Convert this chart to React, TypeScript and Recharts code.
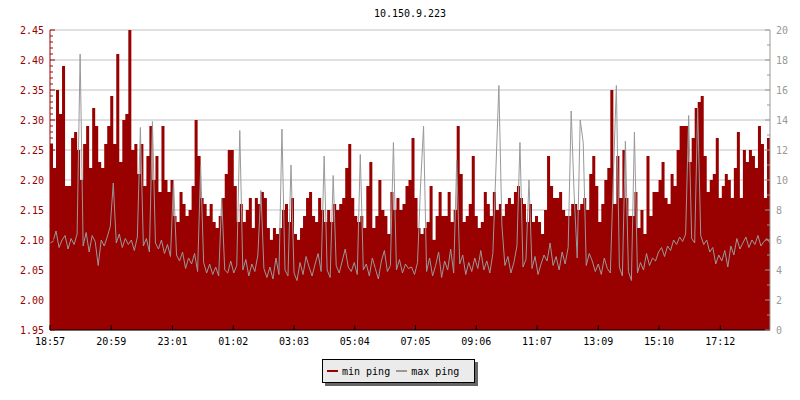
import React from 'react';
import { ComposedChart, Area, Line, XAxis, YAxis, CartesianGrid } from 'recharts';

// ping samples every 6 minutes starting 18:57
const START = '18:57';
const STEP_MIN = 6;

const minPing = [
  2.26, 2.22, 2.35, 2.31, 2.39, 2.19, 2.19, 2.27, 2.28, 2.25,
  2.20, 2.26, 2.29, 2.22, 2.32, 2.29, 2.23, 2.22, 2.26, 2.29,
  2.34, 2.26, 2.41, 2.23, 2.30, 2.31, 2.45, 2.25, 2.26, 2.21,
  2.26, 2.19, 2.24, 2.29, 2.20, 2.24, 2.18, 2.29, 2.20, 2.18,
  2.20, 2.14, 2.13, 2.18, 2.16, 2.14, 2.15, 2.19, 2.30, 2.24,
  2.17, 2.16, 2.14, 2.16, 2.13, 2.12, 2.14, 2.17, 2.21, 2.25,
  2.25, 2.19, 2.13, 2.16, 2.13, 2.15, 2.17, 2.12, 2.17, 2.16,
  2.18, 2.17, 2.12, 2.10, 2.12, 2.11, 2.12, 2.15, 2.16, 2.13,
  2.17, 2.11, 2.10, 2.12, 2.14, 2.17, 2.18, 2.14, 2.13, 2.17,
  2.15, 2.13, 2.15, 2.13, 2.16, 2.15, 2.16, 2.17, 2.22, 2.26,
  2.17, 2.14, 2.13, 2.14, 2.12, 2.19, 2.23, 2.12, 2.14, 2.20,
  2.15, 2.14, 2.11, 2.18, 2.15, 2.17, 2.15, 2.16, 2.19, 2.20,
  2.27, 2.17, 2.12, 2.11, 2.12, 2.13, 2.19, 2.10, 2.14, 2.18,
  2.14, 2.14, 2.18, 2.13, 2.15, 2.29, 2.21, 2.13, 2.14, 2.16,
  2.24, 2.14, 2.12, 2.13, 2.18, 2.16, 2.14, 2.18, 2.15, 2.16,
  2.14, 2.16, 2.17, 2.16, 2.18, 2.19, 2.17, 2.16, 2.13, 2.16,
  2.13, 2.14, 2.13, 2.11, 2.15, 2.24, 2.19, 2.17, 2.17, 2.18,
  2.15, 2.14, 2.14, 2.16, 2.16, 2.15, 2.16, 2.17, 2.15, 2.21,
  2.24, 2.19, 2.13, 2.16, 2.20, 2.22, 2.35, 2.16, 2.24, 2.17,
  2.25, 2.17, 2.14, 2.14, 2.18, 2.12, 2.15, 2.11, 2.24, 2.14,
  2.18, 2.18, 2.20, 2.23, 2.17, 2.16, 2.21, 2.19, 2.25, 2.29,
  2.29, 2.29, 2.23, 2.27, 2.32, 2.33, 2.34, 2.24, 2.18, 2.20,
  2.21, 2.27, 2.17, 2.19, 2.21, 2.20, 2.17, 2.22, 2.28, 2.17,
  2.25, 2.23, 2.25, 2.24, 2.22, 2.29, 2.26, 2.17, 2.27, 2.32,
];

const maxPing = [
  5.8, 5.9, 6.6, 5.5, 6.0, 6.3, 5.4, 6.1, 5.7, 6.4,
  18.4, 5.6, 6.5, 5.2, 6.3, 5.9, 4.3, 6.0, 5.6, 6.2,
  6.9, 9.8, 5.8, 6.4, 5.5, 6.1, 5.7, 6.0, 5.3, 6.2,
  13.5, 5.6, 6.1, 5.2, 13.9, 5.8, 5.4, 6.0, 5.1, 5.7,
  4.9, 9.9, 5.0, 4.6, 5.2, 4.1, 4.8, 4.4, 5.1, 3.9,
  10.9, 4.5, 3.8, 4.4, 3.7, 4.2, 3.6, 8.8, 4.0, 3.8,
  4.6, 3.8, 4.3, 13.3, 4.0, 4.7, 3.6, 4.4, 3.9, 5.0,
  9.3, 4.1, 3.5, 4.2, 3.4, 4.8, 3.7, 13.4, 4.0, 3.6,
  11.0, 3.8, 3.3, 4.5, 3.7, 4.9, 4.2, 3.6, 4.4, 5.1,
  3.9, 11.6, 4.0, 3.5, 10.3, 4.3, 3.8, 4.6, 5.4, 4.2,
  3.9, 4.5, 3.7, 11.7, 4.0, 4.4, 3.6, 4.8, 4.1, 3.4,
  4.6, 5.3, 3.9, 4.3, 12.5, 4.0, 4.7, 3.8, 4.4, 4.1,
  4.2, 3.7, 4.5, 9.6, 13.6, 3.9, 4.8, 3.6, 4.3, 5.2,
  3.5, 4.6, 4.0, 5.4, 3.8, 11.3, 4.4, 5.0, 3.7, 4.5,
  3.9, 4.8, 4.1, 5.3, 4.0, 4.6, 3.8, 5.1, 10.6, 16.3,
  7.0, 4.3, 4.9, 3.8, 4.5, 5.6, 12.5, 4.2, 4.7, 10.0,
  4.1, 4.9, 3.7, 4.4, 5.0, 4.6, 5.8, 4.3, 4.9, 4.0,
  5.2, 4.4, 5.5, 14.6, 9.0, 4.8, 14.0, 12.5, 4.3, 5.1,
  4.6, 3.9, 4.4, 3.7, 4.8, 4.1, 3.8, 10.2, 16.3, 4.2,
  3.6, 12.6, 3.9, 3.3, 13.2, 3.8, 4.5, 4.0, 5.1, 4.3,
  4.8, 4.6, 5.2, 5.5, 4.9, 5.6, 5.3, 6.0, 5.7, 6.2,
  5.9, 6.4, 14.3, 6.1, 5.8, 14.8, 6.3, 5.7, 6.0, 5.2,
  5.5, 4.4, 5.0, 4.6, 5.3, 4.2, 5.6, 5.0, 6.1, 5.4,
  5.8, 6.2, 5.5, 6.0, 5.7, 6.3, 5.6, 5.9, 6.1, 5.8,
];

const timeLabels = ['18:57', '20:59', '23:01', '01:02', '03:03', '05:04', '07:05', '09:06', '11:07', '13:09', '15:10', '17:12'];
const leftLabels = [1.95, 2.0, 2.05, 2.1, 2.15, 2.2, 2.25, 2.3, 2.35, 2.4, 2.45];
const rightLabels = [0, 2, 4, 6, 8, 10, 12, 14, 16, 18, 20];

const RED = '#990000';
const GREY = '#999999';
const FONT = '"DejaVu Sans Mono", monospace';

const toMin = (s: string) => {
  const [h, m] = s.split(':').map(Number);
  return h * 60 + m;
};
const offset = (s: string) => (toMin(s) - toMin(START) + 1440) % 1440;
const fromOffset = (v: number) => {
  const m = (toMin(START) + v) % 1440;
  return `${String(Math.floor(m / 60)).padStart(2, '0')}:${String(m % 60).padStart(2, '0')}`;
};

const data = minPing.map((v, i) => ({ t: i * STEP_MIN, min: v, max: maxPing[i] }));
const lastT = (minPing.length - 1) * STEP_MIN;
const xTicks = timeLabels.map(offset);

// minor ticks every 0.01 on the left, every 1 on the right
const leftTicks: number[] = [];
for (let k = 195; k <= 245; k++) leftTicks.push(k / 100);
const rightTicks: number[] = [];
for (let k = 0; k <= 20; k++) rightTicks.push(k);

const GAP = 6;

const LeftTick = (props: any) => {
  const { x, y, payload } = props;
  const ax = x + GAP;
  const major = Math.round(payload.value * 100) % 5 === 0;
  return (
    <g>
      <line x1={ax} x2={ax + (major ? 5 : 3)} y1={y} y2={y} stroke={RED} />
      {major && (
        <text x={x} y={y} dy="0.35em" textAnchor="end" fill={RED} fontSize={10} fontFamily={FONT}>
          {payload.value.toFixed(2)}
        </text>
      )}
    </g>
  );
};

const RightTick = (props: any) => {
  const { x, y, payload } = props;
  const ax = x - GAP;
  const major = payload.value % 2 === 0;
  return (
    <g>
      <line x1={ax} x2={ax - (major ? 5 : 3)} y1={y} y2={y} stroke={GREY} />
      {major && (
        <text x={x} y={y} dy="0.35em" textAnchor="start" fill={GREY} fontSize={10} fontFamily={FONT}>
          {payload.value}
        </text>
      )}
    </g>
  );
};

const XTick = (props: any) => {
  const { x, y, payload } = props;
  const ay = y - 8;
  return (
    <g>
      <line x1={x} x2={x} y1={ay} y2={ay - 5} stroke="#000" />
      <text x={x} y={y} dy="0.71em" textAnchor="middle" fill="#000" fontSize={10} fontFamily={FONT}>
        {fromOffset(payload.value)}
      </text>
    </g>
  );
};

export default function App() {
  return (
    <div style={{ position: 'absolute', left: 0, top: 0, width: 800, height: 400, background: '#fff', fontFamily: FONT }}>
      <div style={{ position: 'absolute', left: 50, top: 8, width: 720, textAlign: 'center', fontSize: 10, color: '#000' }}>
        10.150.9.223
      </div>
      <ComposedChart width={800} height={400} data={data} margin={{ top: 30, right: 0, bottom: 0, left: 0 }}>
        <CartesianGrid yAxisId="left" vertical={false} horizontalValues={leftLabels} stroke="#c0c0c0" />
        <YAxis
          yAxisId="left"
          orientation="left"
          width={50}
          domain={[1.95, 2.45]}
          ticks={leftTicks}
          interval={0}
          allowDataOverflow
          tickSize={0}
          tickMargin={GAP}
          tickLine={false}
          axisLine={{ stroke: RED }}
          tick={<LeftTick />}
        />
        <YAxis
          yAxisId="right"
          orientation="right"
          width={30}
          domain={[0, 20]}
          ticks={rightTicks}
          interval={0}
          allowDataOverflow
          tickSize={0}
          tickMargin={GAP}
          tickLine={false}
          axisLine={{ stroke: GREY }}
          tick={<RightTick />}
        />
        <Area
          yAxisId="left"
          type="stepAfter"
          dataKey="min"
          fill={RED}
          fillOpacity={1}
          stroke="none"
          isAnimationActive={false}
        />
        <Line
          yAxisId="right"
          type="linear"
          dataKey="max"
          stroke={GREY}
          strokeWidth={1}
          dot={false}
          isAnimationActive={false}
        />
        <XAxis
          dataKey="t"
          type="number"
          domain={[0, lastT]}
          ticks={xTicks}
          interval={0}
          height={70}
          tickSize={0}
          tickMargin={8}
          tickLine={false}
          axisLine={{ stroke: '#000' }}
          tick={<XTick />}
        />
      </ComposedChart>
      <div
        style={{
          position: 'absolute',
          left: 322,
          top: 359,
          width: 151,
          height: 22,
          background: '#ebebeb',
          border: '1px solid #000',
          boxShadow: '3px 3px 0 #666',
          display: 'flex',
          alignItems: 'center',
          fontSize: 10,
          color: '#000',
        }}
      >
        <span style={{ display: 'inline-block', width: 11, height: 2, background: RED, marginLeft: 4, marginRight: 4 }} />
        <span>min ping</span>
        <span style={{ display: 'inline-block', width: 11, height: 2, background: GREY, marginLeft: 6, marginRight: 4 }} />
        <span>max ping</span>
      </div>
    </div>
  );
}
